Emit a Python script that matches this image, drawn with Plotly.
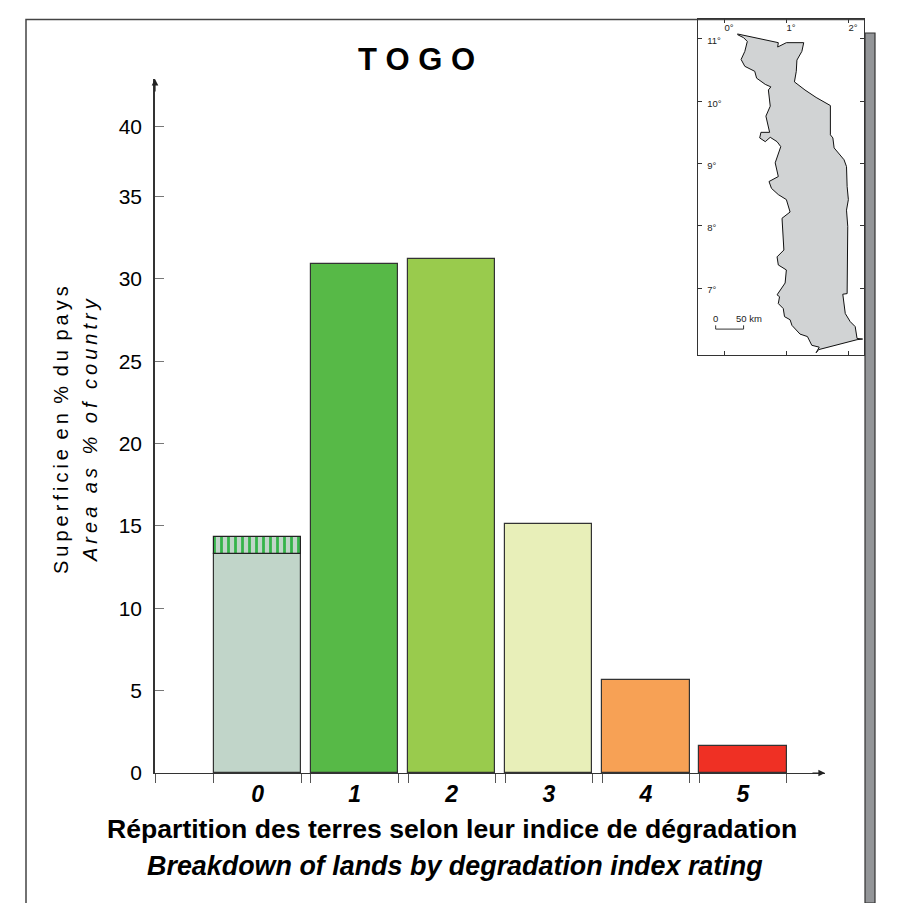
import plotly.graph_objects as go

W, H = 899, 903
categories = [0, 1, 2, 3, 4, 5]
category_labels = ["0", "1", "2", "3", "4", "5"]
area_pct = [13.3, 30.9, 31.2, 15.1, 5.65, 1.65]
hatched_base = [13.3]
hatched_part = [1.0]
bar_colors = ["#c1d5c9", "#57b947", "#99cb4d", "#e8efb9", "#f7a155", "#ef3024"]

y_ticks = [0, 5, 10, 15, 20, 25, 30, 35, 39.23]
y_tick_labels = ["0", "5", "10", "15", "20", "25", "30", "35", "40"]

lon = [.20,.38,.86,.85,.99,1.27,1.24,1.16,1.15,1.12,1.29,1.47,1.70,1.70,1.74,1.76,1.83,1.92,1.96,1.97,
       1.99,1.96,1.98,1.97,1.97,1.90,1.92,1.94,2.02,2.10,2.13,2.22,2.13,1.51,1.47,1.52,1.40,1.33,1.21,1.08,
       1.05,.96,.94,.86,.88,.84,.97,.99,.86,.84,.95,.94,.92,1.05,.99,.86,.75,.71,.86,.81,
       .90,.84,.73,.65,.56,.58,.72,.66,.73,.70,.74,.65,.51,.48,.32,.26,.32,.36,.30,.20]
lat = [11.08,11.04,10.94,10.87,10.94,10.94,10.80,10.66,10.48,10.31,10.18,10.06,9.93,9.46,9.41,9.25,9.16,9.06,8.95,8.63,
       8.42,8.25,7.99,7.45,6.91,6.90,6.75,6.59,6.46,6.38,6.19,6.18,6.17,6.01,5.96,6.05,6.08,6.22,6.26,6.40,
       6.49,6.54,6.67,6.75,6.86,6.89,7.08,7.29,7.37,7.50,7.61,7.83,8.12,8.22,8.42,8.50,8.60,8.71,8.79,9.01,
       9.27,9.35,9.42,9.35,9.41,9.50,9.50,9.76,9.92,10.18,10.23,10.27,10.37,10.48,10.56,10.67,10.80,10.96,11.02,11.07]
scale_lon = [-.15, -.15, .30, .30]
scale_lat = [6.40, 6.34, 6.34, 6.40]

BAR_W = 0.90
edges = [-1.056]
for c in categories:
    edges += [c - BAR_W / 2, c + BAR_W / 2]

px = lambda v: v / W
py = lambda v: 1 - v / H
spaced = lambda s: "\u2009".join(s)
spaced_words = lambda s: " \u2009".join("\u2009".join(w) for w in s.split(" "))
SMALL = dict(family="Liberation Sans", size=9.5, color="#222222")

fig = go.Figure()
fig.add_bar(x=categories, y=area_pct, width=BAR_W,
            marker=dict(color=bar_colors, line=dict(color="#333333", width=1.2)))
fig.add_bar(x=[0], y=hatched_part, base=hatched_base, width=BAR_W,
            marker=dict(color="#c1d5c9", line=dict(color="#222222", width=1.2),
                        pattern=dict(shape="|", fgcolor="#35b44a", bgcolor="#c1d5c9", fgopacity=1, size=7, solidity=0.4)))
fig.add_scatter(x=lon, y=lat, xaxis="x2", yaxis="y2", mode="lines", fill="toself",
                fillcolor="#d1d3d4", line=dict(color="#111111", width=1), hoverinfo="skip")
fig.add_scatter(x=scale_lon, y=scale_lat, xaxis="x2", yaxis="y2", mode="lines",
                line=dict(color="#333333", width=1), hoverinfo="skip")

band = dict(type="rect", xref="paper", yref="paper", x0=px(865), x1=px(875), y0=py(903), y1=py(33),
            fillcolor="#939598", line=dict(color="#333333", width=1.2), layer="below")
frame = dict(type="path", xref="paper", yref="paper",
             path=f"M {px(26)} {py(903)} L {px(26)} {py(19.5)} L {px(864)} {py(19.5)}",
             line=dict(color="#444444", width=1.5), layer="below")


def label(text, x, y, size, bold=False, italic=False, angle=0, family="Liberation Sans"):
    return dict(text=text, xref="paper", yref="paper", x=px(x), y=py(y), showarrow=False,
                xanchor="center", yanchor="middle", textangle=angle,
                font=dict(family=family, size=size, color="#000000",
                          weight="bold" if bold else "normal", style="italic" if italic else "normal"))


annotations = [
    label("T O G O", 416, 59, 31, bold=True),
    label(spaced_words("Superficie en % du pays"), 61, 430, 20, angle=-90),
    label(spaced("Area as % of country"), 90, 430, 20, italic=True, angle=-90),
    label("Répartition des terres selon leur indice de dégradation", 451.5, 829, 26.6, bold=True),
    label("Breakdown of lands by degradation index rating", 454.5, 866, 26.9, bold=True, italic=True),
    dict(xref="x", yref="y", x=-1.056, y=42.14, axref="pixel", ayref="pixel", ax=0, ay=14, text="",
         showarrow=True, arrowhead=2, arrowsize=1.1, arrowwidth=1.2, arrowcolor="#222222"),
    dict(xref="x", yref="y", x=5.845, y=0, axref="pixel", ayref="pixel", ax=-14, ay=0, text="",
         showarrow=True, arrowhead=2, arrowsize=1.1, arrowwidth=1.2, arrowcolor="#222222"),
    dict(text="0", xref="x2", yref="y2", x=-.16, y=6.51, showarrow=False, font=SMALL),
    dict(text="50 km", xref="x2", yref="y2", x=.39, y=6.51, showarrow=False, font=SMALL),
]

fig.update_layout(
    width=W, height=H, autosize=False, showlegend=False, barmode="overlay", bargap=0,
    margin=dict(l=0, r=0, t=0, b=0, pad=0), paper_bgcolor="#ffffff", plot_bgcolor="rgba(0,0,0,0)",
    shapes=[band, frame], annotations=annotations,
    xaxis=dict(domain=[px(155), px(825)], range=[-1.056, 5.845], showgrid=False, zeroline=False, automargin=False,
               showline=True, linecolor="#333333", linewidth=1.2, tickmode="array",
               tickvals=categories, ticktext=category_labels, ticks="", ticklabelstandoff=0,
               tickfont=dict(family="Liberation Sans", size=23, color="#000000", weight="bold", style="italic"),
               minor=dict(tickmode="array", tickvals=edges, ticks="outside", ticklen=9, tickwidth=1, tickcolor="#555555")),
    yaxis=dict(domain=[py(773), py(79)], range=[0, 42.14], showgrid=False, zeroline=False, automargin=False,
               showline=True, linecolor="#333333", linewidth=1.5, tickmode="array",
               tickvals=y_ticks, ticktext=y_tick_labels, ticks="inside", ticklen=9, tickwidth=1, tickcolor="#777777",
               ticklabelstandoff=7, tickfont=dict(family="Liberation Sans", size=21, color="#000000")),
    xaxis2=dict(domain=[px(698), px(864)], range=[-0.435, 2.242], anchor="y2", side="top", showgrid=False,
                zeroline=False, automargin=False, showline=True, mirror="ticks", linecolor="#333333", linewidth=1.2,
                tickmode="array", tickvals=[0, 1, 2], ticktext=["0°", "1°", "2°"], ticks="inside", ticklen=4,
                tickcolor="#333333", ticklabelposition="inside", ticklabelshift=4, tickfont=SMALL),
    yaxis2=dict(domain=[py(355), py(19)], range=[5.924, 11.32], anchor="x2", showgrid=False,
                zeroline=False, automargin=False, showline=True, mirror="ticks", linecolor="#333333", linewidth=1.2,
                tickmode="array", tickvals=[7, 8, 9, 10, 11], ticktext=["7°", "8°", "9°", "10°", "11°"],
                ticks="inside", ticklen=4, tickcolor="#333333", ticklabelposition="inside", ticklabelstandoff=4,
                ticklabelshift=2, tickfont=SMALL),
)
fig.write_html("out.html", config=dict(displayModeBar=False),
               post_script="document.body.style.margin='0';document.documentElement.style.overflow='hidden';")
